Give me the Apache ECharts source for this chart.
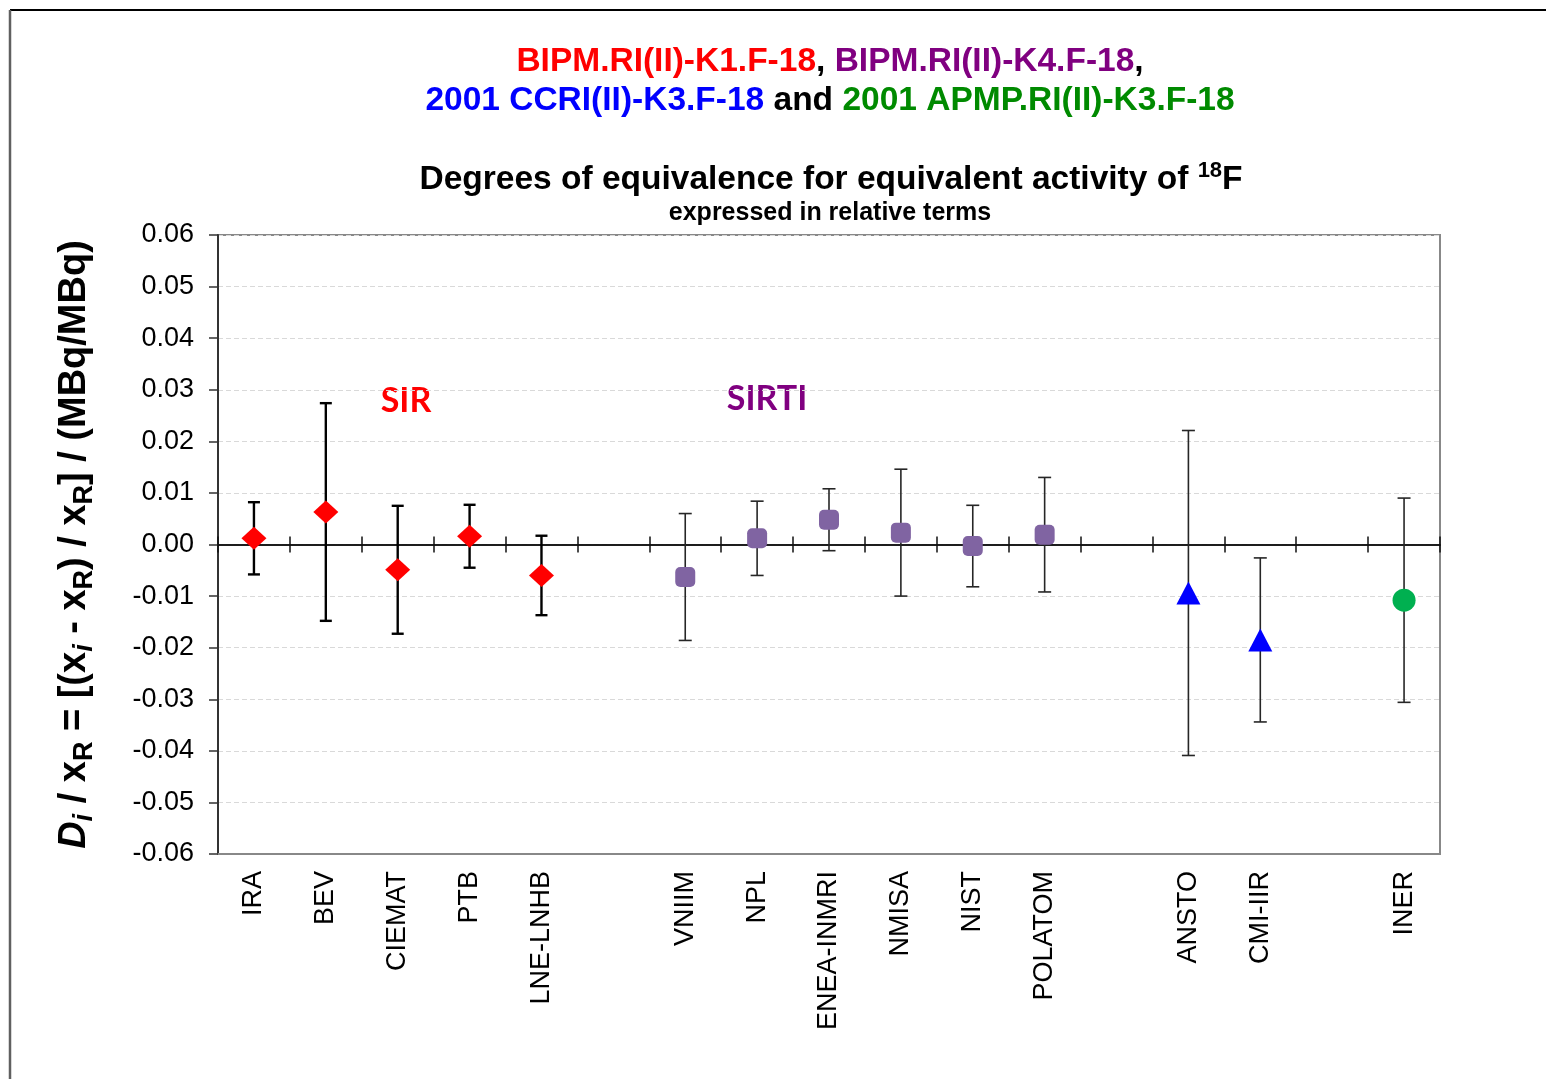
<!DOCTYPE html>
<html>
<head>
<meta charset="utf-8">
<title>Degrees of equivalence 18F</title>
<script src="https://cdn.jsdelivr.net/npm/echarts@6/dist/echarts.min.js"></script>
<style>
  html, body { margin: 0; padding: 0; background: #fff; }
  #chart { width: 1546px; height: 1079px; }
</style>
</head>
<body>
<div id="chart"></div>
<script>
// categories along the x axis (blank slots are the gaps between comparisons)
const categories = ['IRA', 'BEV', 'CIEMAT', 'PTB', 'LNE-LNHB', ' ',
  'VNIIM', 'NPL', 'ENEA-INMRI', 'NMISA', 'NIST', 'POLATOM', '  ',
  'ANSTO', 'CMI-IIR', '   ', 'INER'];

// BIPM.RI(II)-K1.F-18 (SIR)
const sirLabs = ['IRA', 'BEV', 'CIEMAT', 'PTB', 'LNE-LNHB'];
const sirValues = [0.0012, 0.0063, -0.0049, 0.0016, -0.0060];
const sirU = [0.0070, 0.0211, 0.0124, 0.0061, 0.0077];

// BIPM.RI(II)-K4.F-18 (SIRTI)
const sirtiLabs = ['VNIIM', 'NPL', 'ENEA-INMRI', 'NMISA', 'NIST', 'POLATOM'];
const sirtiValues = [-0.0063, 0.0012, 0.0048, 0.0023, -0.0003, 0.0019];
const sirtiU = [0.0123, 0.0072, 0.0060, 0.0123, 0.0079, 0.0111];

// 2001 CCRI(II)-K3.F-18
const ccriLabs = ['ANSTO', 'CMI-IIR'];
const ccriValues = [-0.0094, -0.0185];
const ccriU = [0.0315, 0.0159];

// 2001 APMP.RI(II)-K3.F-18
const apmpLabs = ['INER'];
const apmpValues = [-0.0108];
const apmpU = [0.0198];

// y axis ticks
const yMin = -0.06;
const yMax = 0.06;
const yStep = 0.01;

const FONT = "'Liberation Sans', Arial, sans-serif";

function points(labs, vals, us) {
  return labs.map((l, i) => [l, vals[i], us[i]]);
}

function errorBars(halfCap, width, color) {
  return function (params, api) {
    const x = api.value(0);
    const y = api.value(1);
    const u = api.value(2);
    const top = api.coord([x, y + u]);
    const bot = api.coord([x, y - u]);
    const style = { stroke: color, lineWidth: width };
    return {
      type: 'group',
      children: [
        { type: 'line', shape: { x1: top[0], y1: top[1], x2: bot[0], y2: bot[1] }, style: style },
        { type: 'line', shape: { x1: top[0] - halfCap, y1: top[1], x2: top[0] + halfCap, y2: top[1] }, style: style },
        { type: 'line', shape: { x1: bot[0] - halfCap, y1: bot[1], x2: bot[0] + halfCap, y2: bot[1] }, style: style }
      ]
    };
  };
}

const chart = echarts.init(document.getElementById('chart'));

const zeroAxis = {
  type: 'category',
  data: categories,
  boundaryGap: true,
  axisLine: { show: true, onZero: true, onZeroAxisIndex: 0, lineStyle: { color: '#111', width: 1.5 } },
  axisTick: { show: true, interval: 0, length: 8, lineStyle: { color: '#111', width: 1.5 } },
  axisLabel: { show: false },
  splitLine: { show: false }
};

const T = 'bold 33.5px ' + FONT;

const option = {
  backgroundColor: '#fff',
  animation: false,
  grid: {
    left: 218, top: 235, right: 106, bottom: 225,
    show: true, borderColor: '#888', borderWidth: 2, backgroundColor: '#fff',
    outerBoundsMode: 'none'
  },
  graphic: [
    { type: 'line', shape: { x1: 10, y1: 10, x2: 1546, y2: 10 }, style: { stroke: '#000', lineWidth: 2 } },
    { type: 'line', shape: { x1: 10, y1: 10, x2: 10, y2: 1079 }, style: { stroke: '#606060', lineWidth: 2.5 } },
    {
      type: 'text', x: 830, y: 62,
      style: {
        text: '{r|BIPM.RI(II)-K1.F-18}{k|, }{p|BIPM.RI(II)-K4.F-18}{k|,}',
        align: 'center', verticalAlign: 'middle',
        font: T,
        rich: {
          r: { fill: '#ff0000', font: T },
          p: { fill: '#800080', font: T },
          k: { fill: '#000', font: T }
        }
      }
    },
    {
      type: 'text', x: 830, y: 101,
      style: {
        text: '{b|2001 CCRI(II)-K3.F-18}{k| and }{g|2001 APMP.RI(II)-K3.F-18}',
        align: 'center', verticalAlign: 'middle',
        font: T,
        rich: {
          b: { fill: '#0000ff', font: T },
          g: { fill: '#008a00', font: T },
          k: { fill: '#000', font: T }
        }
      }
    },
    {
      type: 'text', x: 831, y: 180,
      style: {
        text: '{n|Degrees of equivalence for equivalent activity of }{sup|18}{n|F}',
        align: 'center', verticalAlign: 'middle',
        font: T,
        rich: {
          n: { fill: '#000', font: T, lineHeight: 40 },
          sup: { fill: '#000', font: 'bold 22px ' + FONT, lineHeight: 22, verticalAlign: 'top' }
        }
      }
    },
    {
      type: 'text', x: 830, y: 213,
      style: {
        text: 'expressed in relative terms',
        align: 'center', verticalAlign: 'middle',
        fill: '#000', font: 'bold 25px ' + FONT
      }
    },
    {
      type: 'text', x: 406, y: 401,
      style: {
        text: 'SIR', align: 'center', verticalAlign: 'middle',
        fill: '#ff0000', font: "bold 34px Lato, 'Open Sans', sans-serif"
      }
    },
    {
      type: 'text', x: 767, y: 399,
      style: {
        text: 'SIRTI', align: 'center', verticalAlign: 'middle',
        fill: '#800080', font: "bold 34px Lato, 'Open Sans', sans-serif"
      }
    }
  ],
  xAxis: [
    {
      type: 'category',
      data: categories,
      position: 'bottom',
      boundaryGap: true,
      axisLine: { show: true, onZero: false, lineStyle: { color: '#888', width: 2 } },
      axisTick: { show: false },
      axisLabel: {
        interval: 0, rotate: 90, margin: 17,
        color: '#000', fontSize: 27, fontFamily: FONT
      },
      splitLine: { show: false }
    },
    Object.assign({ position: 'top' }, zeroAxis),
    Object.assign({ position: 'bottom' }, zeroAxis)
  ],
  yAxis: {
    type: 'value',
    min: yMin, max: yMax, interval: yStep,
    name: '{it|D}{subit|i}{n| / x}{sub|R}{n| = [(x}{subit|i}{n| - x}{sub|R}{n|) / x}{sub|R}{n|] / (MBq/MBq)}',
    nameLocation: 'middle',
    nameRotate: 90,
    nameGap: 120,
    nameTextStyle: {
      color: '#000',
      fontSize: 38, fontWeight: 'bold', fontFamily: FONT,
      rich: {
        n: { fontSize: 38, fontWeight: 'bold', fontFamily: FONT, color: '#000', lineHeight: 46 },
        it: { fontSize: 38, fontWeight: 'bold', fontStyle: 'italic', fontFamily: FONT, color: '#000', lineHeight: 46 },
        sub: { fontSize: 27, fontWeight: 'bold', fontFamily: FONT, color: '#000', lineHeight: 27, verticalAlign: 'bottom' },
        subit: { fontSize: 27, fontWeight: 'bold', fontStyle: 'italic', fontFamily: FONT, color: '#000', lineHeight: 27, verticalAlign: 'bottom' }
      }
    },
    axisLine: { show: true, onZero: false, lineStyle: { color: '#333', width: 2 } },
    axisTick: { show: true, length: 9, lineStyle: { color: '#333', width: 1.5 } },
    axisLabel: {
      margin: 24, color: '#000', fontSize: 27, fontFamily: FONT,
      formatter: function (v) { return Math.abs(v) < 1e-9 ? '0.00' : v.toFixed(2); }
    },
    splitLine: { show: true, lineStyle: { color: '#d9d9d9', type: [5, 3], width: 1 } }
  },
  series: [
    {
      name: 'SIR bars', type: 'custom', z: 2,
      renderItem: errorBars(6, 2.4, '#000'),
      encode: { x: 0, y: 1 },
      data: points(sirLabs, sirValues, sirU)
    },
    {
      name: 'SIRTI bars', type: 'custom', z: 2,
      renderItem: errorBars(6.5, 1.6, '#262626'),
      encode: { x: 0, y: 1 },
      data: points(sirtiLabs, sirtiValues, sirtiU)
    },
    {
      name: 'CCRI bars', type: 'custom', z: 2,
      renderItem: errorBars(6.5, 1.6, '#262626'),
      encode: { x: 0, y: 1 },
      data: points(ccriLabs, ccriValues, ccriU)
    },
    {
      name: 'APMP bars', type: 'custom', z: 2,
      renderItem: errorBars(6.5, 1.6, '#262626'),
      encode: { x: 0, y: 1 },
      data: points(apmpLabs, apmpValues, apmpU)
    },
    {
      name: 'BIPM.RI(II)-K1.F-18', type: 'scatter', z: 3,
      symbol: 'diamond', symbolSize: [25, 23],
      itemStyle: { color: '#ff0000', opacity: 1 },
      data: points(sirLabs, sirValues, sirU)
    },
    {
      name: 'BIPM.RI(II)-K4.F-18', type: 'scatter', z: 3,
      symbol: 'roundRect', symbolSize: 20,
      itemStyle: { color: '#8064a2', opacity: 1 },
      data: points(sirtiLabs, sirtiValues, sirtiU)
    },
    {
      name: '2001 CCRI(II)-K3.F-18', type: 'scatter', z: 3,
      symbol: 'triangle', symbolSize: [24, 23],
      itemStyle: { color: '#0000ff', opacity: 1 },
      data: points(ccriLabs, ccriValues, ccriU)
    },
    {
      name: '2001 APMP.RI(II)-K3.F-18', type: 'scatter', z: 3,
      symbol: 'circle', symbolSize: 23,
      itemStyle: { color: '#00b050', opacity: 1 },
      data: points(apmpLabs, apmpValues, apmpU)
    }
  ]
};

chart.setOption(option);
</script>
</body>
</html>
